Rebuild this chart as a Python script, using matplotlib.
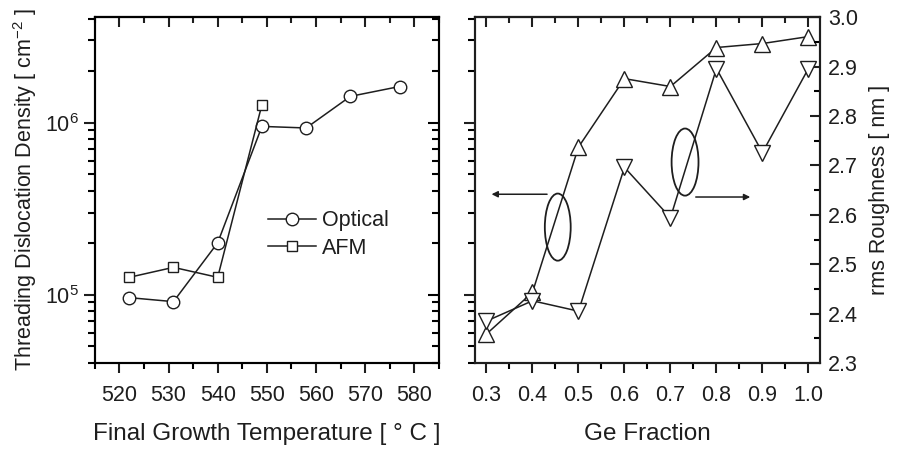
import matplotlib
matplotlib.use("Agg")
import matplotlib.pyplot as plt
from matplotlib.patches import Ellipse
from matplotlib.ticker import MultipleLocator, LogLocator, NullFormatter

plt.rcParams['font.family'] = ['Liberation Sans', 'DejaVu Sans']
plt.rcParams['mathtext.fontset'] = 'custom'
plt.rcParams['mathtext.rm'] = 'Liberation Sans'
plt.rcParams['mathtext.it'] = 'Liberation Sans:italic'
plt.rcParams['mathtext.bf'] = 'Liberation Sans:bold'

INK = '#1e1e1e'

# Left panel: dislocation density vs final growth temperature
temp_optical = [522, 531, 540, 549, 558, 567, 577]
tdd_optical = [0.96e5, 0.91e5, 2.0e5, 0.95e6, 0.93e6, 1.42e6, 1.62e6]
temp_afm = [522, 531, 540, 549]
tdd_afm = [1.26e5, 1.44e5, 1.26e5, 1.27e6]

# Right panel: dislocation density and roughness vs Ge fraction
ge_fraction = [0.3, 0.4, 0.5, 0.6, 0.7, 0.8, 0.9, 1.0]
tdd_ge = [5.9e4, 1.03e5, 7.2e5, 1.8e6, 1.62e6, 2.73e6, 2.88e6, 3.16e6]
rms_ge = [2.385, 2.426, 2.405, 2.696, 2.594, 2.896, 2.726, 2.896]

temp_ticks = [520, 530, 540, 550, 560, 570, 580]
ge_ticks = [0.3, 0.4, 0.5, 0.6, 0.7, 0.8, 0.9, 1.0]
rms_ticks = [2.3, 2.4, 2.5, 2.6, 2.7, 2.8, 2.9, 3.0]

TICK_FS = 15.5
XLABEL_FS = 17.5
YLABEL_FS = 15.5

fig = plt.figure(figsize=(9.03, 4.51), dpi=100)
ax1 = fig.add_axes([0.105, 0.195, 0.381, 0.767])
ax2 = fig.add_axes([0.526, 0.195, 0.382, 0.767])
ax3 = ax2.twinx()

for ax in (ax1, ax2, ax3):
    for sp in ax.spines.values():
        sp.set_linewidth(1.5)
        sp.set_color(INK)

line_kw = dict(color=INK, lw=1.1, mfc='white', mec=INK, mew=1.0)

# ---- left panel ----
ax1.plot(temp_optical, tdd_optical, marker='o', ms=9, label='Optical', **line_kw)
ax1.plot(temp_afm, tdd_afm, marker='s', ms=7.5, label='AFM', **line_kw)
ax1.set_yscale('log')
ax1.set_ylim(4e4, 4.1e6)
ax1.set_xlim(515, 585)
ax1.set_xticks(temp_ticks)
ax1.xaxis.set_minor_locator(MultipleLocator(5))
ax1.yaxis.set_major_locator(LogLocator(base=10, numticks=10))
ax1.yaxis.set_minor_locator(LogLocator(base=10, subs=range(2, 10), numticks=10))
ax1.yaxis.set_minor_formatter(NullFormatter())
ax1.set_xlabel('Final Growth Temperature [ ° C ]', fontsize=XLABEL_FS, color=INK, labelpad=12)
ax1.set_ylabel('Threading Dislocation Density [ cm$^{-2}$ ]', fontsize=YLABEL_FS,
               color=INK, labelpad=4)
leg = ax1.legend(loc='center left', bbox_to_anchor=(0.46, 0.372), frameon=False,
                 fontsize=15.5, handlelength=2.2, handletextpad=0.3, labelspacing=0.3,
                 borderpad=0.2)
for t in leg.get_texts():
    t.set_color(INK)

# ---- right panel ----
ax2.plot(ge_fraction, tdd_ge, marker='^', ms=11, **line_kw)
ax2.set_yscale('log')
ax2.set_ylim(4e4, 4.1e6)
ax2.set_xlim(0.275, 1.025)
ax2.set_xticks(ge_ticks)
ax2.set_xticklabels([f'{v:.1f}' for v in ge_ticks])
ax2.xaxis.set_minor_locator(MultipleLocator(0.05))
ax2.yaxis.set_major_locator(LogLocator(base=10, numticks=10))
ax2.yaxis.set_minor_locator(LogLocator(base=10, subs=range(2, 10), numticks=10))
ax2.yaxis.set_minor_formatter(NullFormatter())
ax2.tick_params(axis='y', which='both', labelleft=False)
ax2.set_xlabel('Ge Fraction', fontsize=XLABEL_FS, color=INK, labelpad=12)

ax3.plot(ge_fraction, rms_ge, marker='v', ms=11, **line_kw)
ax3.set_ylim(2.3, 3.0)
ax3.set_yticks(rms_ticks)
ax3.set_yticklabels([f'{v:.1f}' for v in rms_ticks])
ax3.yaxis.set_minor_locator(MultipleLocator(0.05))
ax3.set_ylabel('rms Roughness [ nm ]', fontsize=YLABEL_FS, color=INK, labelpad=8)

# tick styling: outward on labelled sides, inward on mirrored sides
for ax in (ax1, ax2):
    ax.tick_params(axis='x', which='major', direction='out', length=7, width=1.5,
                   top=False, labelsize=TICK_FS, colors=INK, pad=9)
    ax.tick_params(axis='x', which='minor', direction='out', length=4, width=1.5, top=False)
    ax.tick_params(axis='y', which='major', direction='out', length=8, width=1.5,
                   right=False, labelsize=TICK_FS, colors=INK)
    ax.tick_params(axis='y', which='minor', direction='out', length=5, width=1.5, right=False)
    # inward ticks on the top edge
    top = ax.secondary_xaxis('top')
    top.set_xticks(ax.get_xticks())
    top.xaxis.set_minor_locator(ax.xaxis.get_minor_locator())
    top.tick_params(axis='x', which='major', direction='in', length=7, width=1.5,
                    labeltop=False, colors=INK)
    top.tick_params(axis='x', which='minor', direction='in', length=4, width=1.5, colors=INK)
    top.spines['top'].set_linewidth(1.5)

# inward mirrored log ticks on the right edge of the left panel
r1 = ax1.twinx()
r1.set_yscale('log')
r1.set_ylim(ax1.get_ylim())
r1.yaxis.set_major_locator(LogLocator(base=10, numticks=10))
r1.yaxis.set_minor_locator(LogLocator(base=10, subs=range(2, 10), numticks=10))
r1.tick_params(axis='y', which='major', direction='in', length=8, width=1.5, labelright=False)
r1.tick_params(axis='y', which='minor', direction='in', length=5, width=1.5, labelright=False)
r1.yaxis.set_minor_formatter(NullFormatter())
for sp in r1.spines.values():
    sp.set_linewidth(1.5)

ax3.tick_params(axis='y', which='major', direction='in', length=7, width=1.5,
                labelsize=TICK_FS, colors=INK, pad=6)
ax3.tick_params(axis='y', which='minor', direction='in', length=4, width=1.5)

# ellipses with arrows pointing to the matching axis
ax2.add_patch(Ellipse((0.24, 0.393), 0.075, 0.194, transform=ax2.transAxes,
                      fill=False, ec=INK, lw=1.3))
ax2.add_patch(Ellipse((0.609, 0.581), 0.078, 0.194, transform=ax2.transAxes,
                      fill=False, ec=INK, lw=1.3))
ax2.annotate('', xy=(0.04, 0.488), xytext=(0.217, 0.488), xycoords='axes fraction',
             arrowprops=dict(arrowstyle='-|>', color=INK, lw=1.1, mutation_scale=9))
ax2.annotate('', xy=(0.806, 0.48), xytext=(0.632, 0.48), xycoords='axes fraction',
             arrowprops=dict(arrowstyle='-|>', color=INK, lw=1.1, mutation_scale=9))

fig.savefig('out.png', dpi=100, facecolor='white')
